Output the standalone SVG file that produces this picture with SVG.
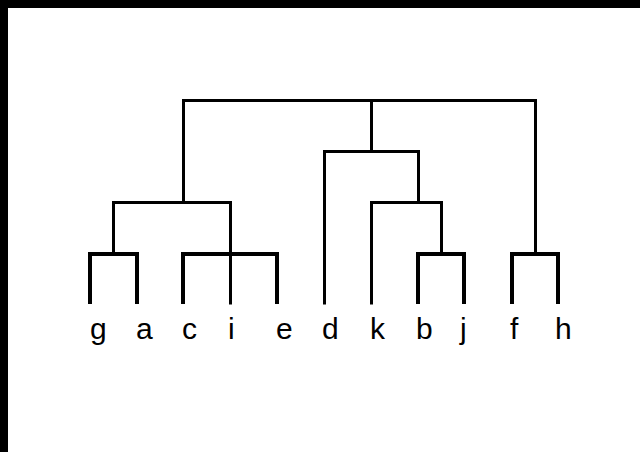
<svg xmlns="http://www.w3.org/2000/svg" width="640" height="452" viewBox="0 0 640 452">
<style>
.bg{fill:#fff}
.frame{fill:#000}
.c{fill:none;stroke:#000;stroke-width:3;stroke-linecap:square;stroke-linejoin:miter}
.b{fill:none;stroke:#000;stroke-width:4;stroke-linecap:butt;stroke-linejoin:miter}
.lbl{font-family:"Liberation Sans",Arial,sans-serif;font-size:30px;fill:#000}
</style>
<rect class="bg" x="0" y="0" width="640" height="452"/>
<rect class="frame" x="0" y="0" width="640" height="8"/>
<rect class="frame" x="0" y="0" width="8" height="452"/>
<g id="connectors">
<path class="c" d="M183.5,202 V100.5 H535.5 V253"/>
<path class="c" d="M371.5,100.5 V151.5"/>
<path class="c" d="M113.5,202.5 H230.5 M113.5,202.5 V253"/>
<path class="c" d="M230.5,202.5 V303"/>
<path class="c" d="M324.5,303 V151.5 H418.5 V202.5"/>
<path class="c" d="M371.5,303 V202.5 H441.5 V253"/>
<path class="b" d="M90,304 V254 H137 V304"/>
<path class="b" d="M183,304 V254 H277 V304"/>
<path class="b" d="M418,304 V254 H464 V304"/>
<path class="b" d="M512,304 V254 H558 V304"/>
</g>
<g id="node-g"><text class="lbl" x="90" y="339">g</text></g>
<g id="node-a"><text class="lbl" x="136" y="339">a</text></g>
<g id="node-c"><text class="lbl" x="182" y="339">c</text></g>
<g id="node-i"><text class="lbl" x="228" y="339">i</text></g>
<g id="node-e"><text class="lbl" x="276" y="339">e</text></g>
<g id="node-d"><text class="lbl" x="322" y="339">d</text></g>
<g id="node-k"><text class="lbl" x="370" y="339">k</text></g>
<g id="node-b"><text class="lbl" x="416" y="339">b</text></g>
<g id="node-j"><text class="lbl" x="460" y="339">j</text></g>
<g id="node-f"><text class="lbl" x="510" y="339">f</text></g>
<g id="node-h"><text class="lbl" x="555" y="339">h</text></g>
</svg>
